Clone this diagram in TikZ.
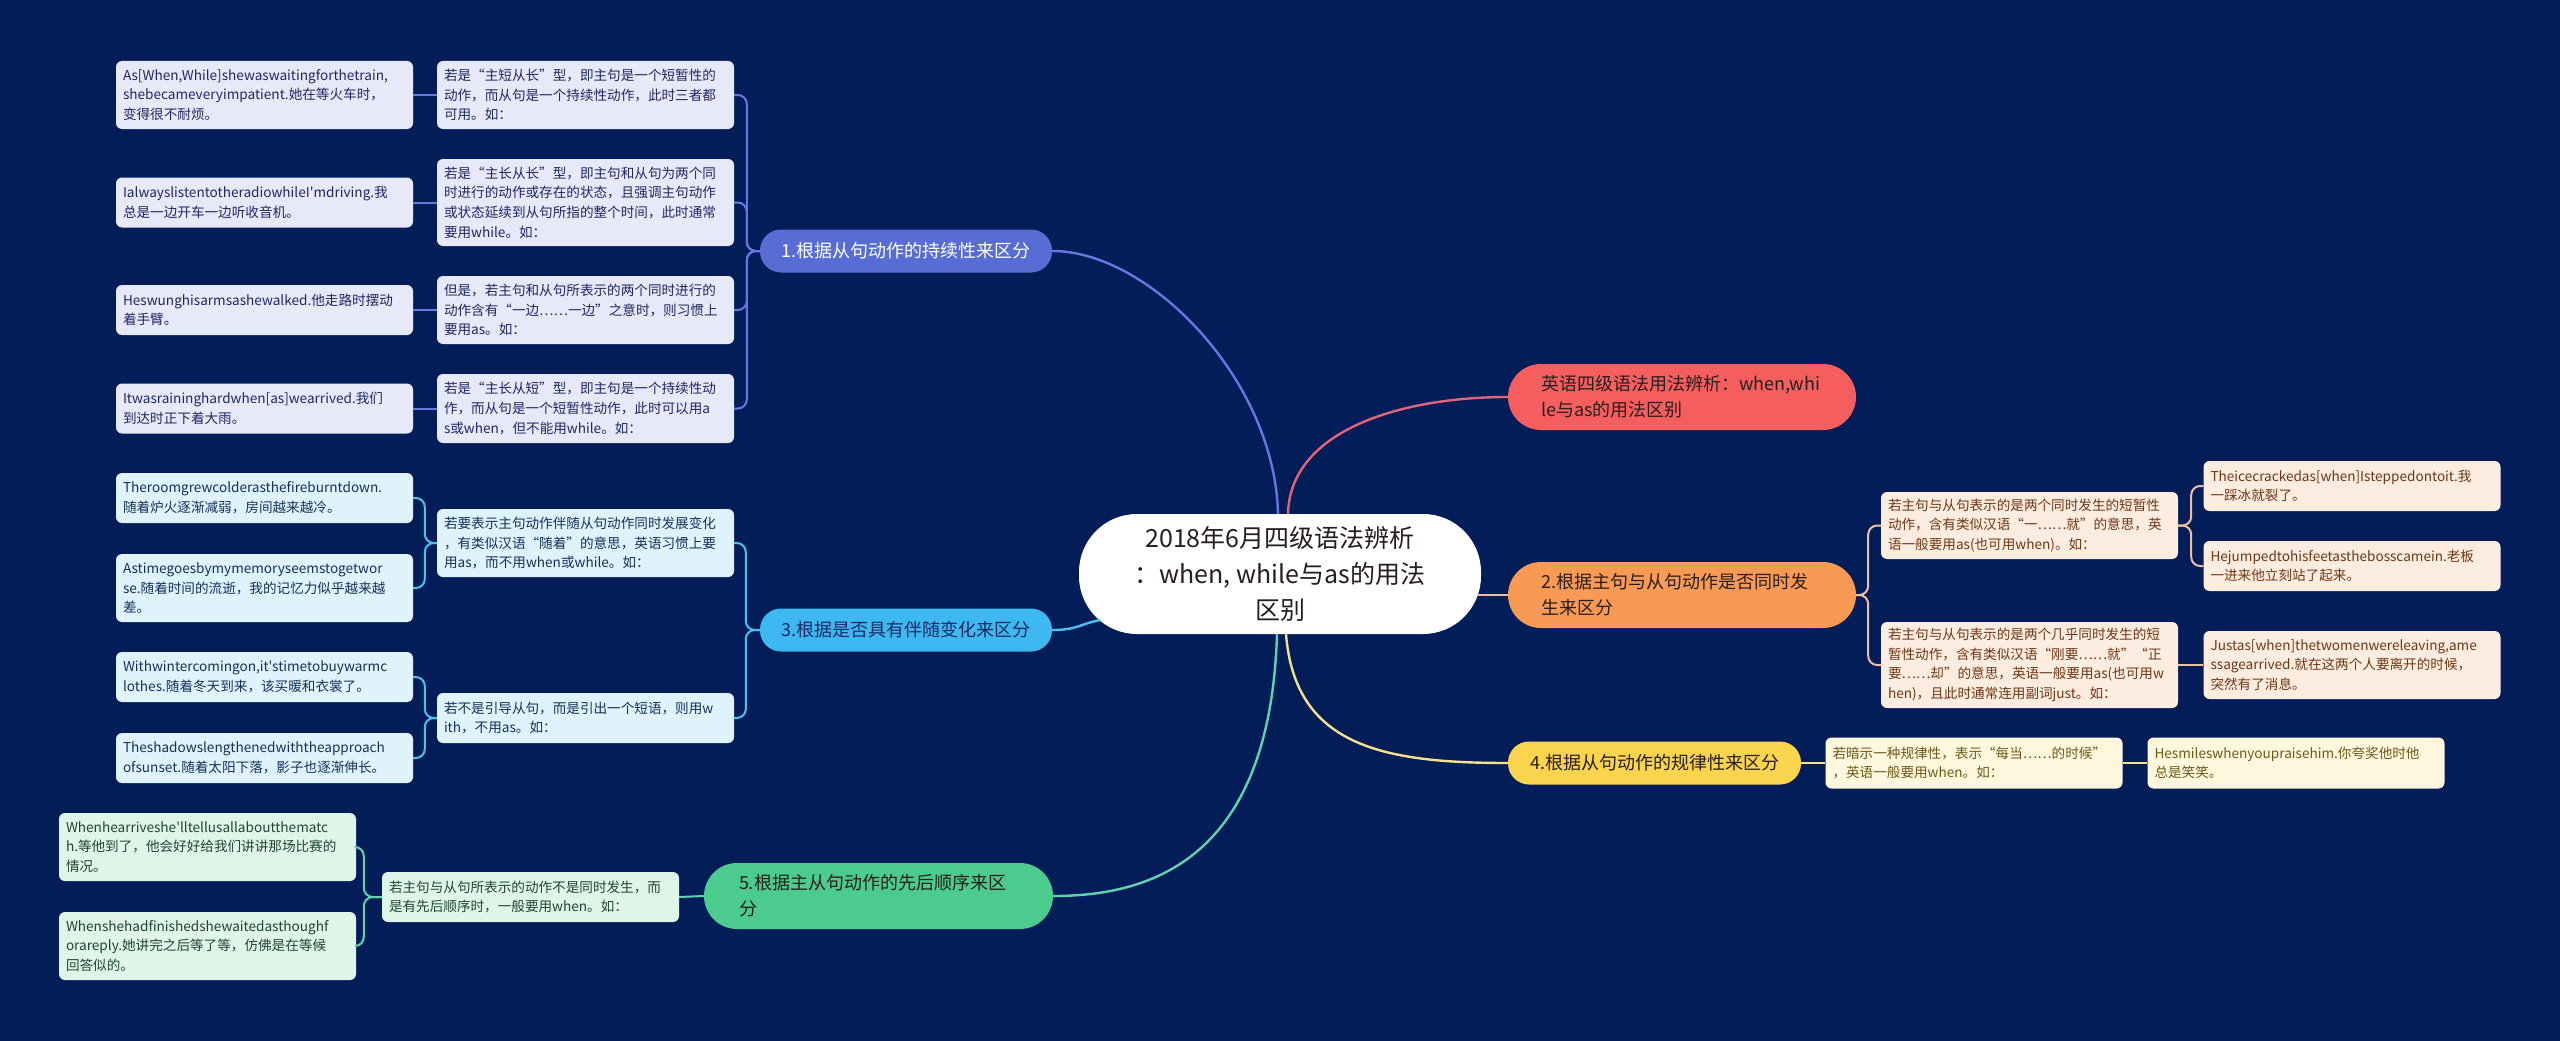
\documentclass[tikz,border=0pt]{standalone}
\usepackage{fontspec}
\setmainfont{Noto Sans CJK SC}[Ligatures=TeXOff]
\usetikzlibrary{calc}
\definecolor{bgnavy}{RGB}{3,29,88}
\definecolor{blueT}{RGB}{88,108,214}
\definecolor{blueL}{RGB}{100,120,228}
\definecolor{blueS}{RGB}{231,233,248}
\definecolor{blueX}{RGB}{30,40,100}
\definecolor{cyanT}{RGB}{62,184,240}
\definecolor{cyanL}{RGB}{80,190,240}
\definecolor{cyanS}{RGB}{222,243,252}
\definecolor{cyanX}{RGB}{20,50,90}
\definecolor{redT}{RGB}{245,94,94}
\definecolor{redL}{RGB}{225,100,120}
\definecolor{oraT}{RGB}{249,154,84}
\definecolor{oraL}{RGB}{240,190,160}
\definecolor{oraS}{RGB}{253,236,224}
\definecolor{oraX}{RGB}{110,55,20}
\definecolor{yelT}{RGB}{250,212,76}
\definecolor{yelL}{RGB}{246,226,140}
\definecolor{yelS}{RGB}{254,247,222}
\definecolor{yelX}{RGB}{110,90,20}
\definecolor{grnT}{RGB}{76,203,142}
\definecolor{grnL}{RGB}{95,210,175}
\definecolor{grnS}{RGB}{224,245,234}
\definecolor{grnX}{RGB}{30,70,50}
\definecolor{darkX}{RGB}{40,30,30}
\hyphenpenalty=10000
\exhyphenpenalty=10000
\begin{document}
\begin{tikzpicture}[x=1pt, y=-1pt,
  leaf/.style={rounded corners=6pt, align=left, text width=283pt, inner xsep=7pt, inner ysep=3pt,
    font=\fontsize{13.6}{19.6}\selectfont},
  topic/.style={font=\fontsize{18}{26}\selectfont, minimum height=43pt, rounded corners=21pt},
  wide/.style={topic, align=left, text width=282pt, inner xsep=33pt, minimum height=66pt, rounded corners=33pt},
  ln/.style={line width=2pt, rounded corners=9pt}]
  \useasboundingbox (0,0) rectangle (2560,1041);
  \fill[bgnavy] (0,0) rectangle (2560,1041);

  \node[fill=white, text=darkX, align=center, minimum width=402pt, minimum height=120pt, rounded corners=58pt,
    font=\fontsize{25}{36}\selectfont] (root) at (1280,574) {2018年6月四级语法辨析\\：when, while与as的用法\\区别};

  \node[wide, fill=redT, text=darkX] (b0) at (1682,397) {英语四级语法用法辨析：when,whi\\le与as的用法区别};
  \node[wide, fill=oraT, text=darkX] (b2) at (1682,595) {2.根据主句与从句动作是否同时发\\生来区分};
  \node[topic, fill=yelT, text=darkX, minimum width=293pt] (b4) at (1654.5,763) {4.根据从句动作的规律性来区分};
  \node[topic, fill=blueT, text=white, minimum width=292pt] (b1) at (906,251) {1.根据从句动作的持续性来区分};
  \node[topic, fill=cyanT, text=blueX, minimum width=292pt] (b3) at (906,630) {3.根据是否具有伴随变化来区分};
  \node[wide, fill=grnT, text=darkX, text width=279pt, inner xsep=35pt] (b5) at (878.5,896) {5.根据主从句动作的先后顺序来区\\分};

  \node[leaf, fill=blueS, text=blueX, minimum height=68pt] (s1a) at (585.5,95) {若是“主短从长”型，即主句是一个短暂性的\\动作，而从句是一个持续性动作，此时三者都\\可用。如：};
  \node[leaf, fill=blueS, text=blueX, minimum height=87pt] (s1b) at (585.5,202.5) {若是“主长从长”型，即主句和从句为两个同\\时进行的动作或存在的状态，且强调主句动作\\或状态延续到从句所指的整个时间，此时通常\\要用while。如：};
  \node[leaf, fill=blueS, text=blueX, minimum height=68pt] (s1c) at (585.5,310) {但是，若主句和从句所表示的两个同时进行的\\动作含有“一边……一边”之意时，则习惯上\\要用as。如：};
  \node[leaf, fill=blueS, text=blueX, minimum height=69pt] (s1d) at (585.5,408.5) {若是“主长从短”型，即主句是一个持续性动\\作，而从句是一个短暂性动作，此时可以用a\\s或when，但不能用while。如：};
  \node[leaf, fill=blueS, text=blueX, minimum height=68pt] (l1a) at (264.5,95) {As[When,While]shewaswaitingforthetrain,\\shebecameveryimpatient.她在等火车时，\\变得很不耐烦。};
  \node[leaf, fill=blueS, text=blueX, minimum height=50pt] (l1b) at (264.5,202.5) {IalwayslistentotheradiowhileI'mdriving.我\\总是一边开车一边听收音机。};
  \node[leaf, fill=blueS, text=blueX, minimum height=50pt] (l1c) at (264.5,310) {Heswunghisarmsashewalked.他走路时摆动\\着手臂。};
  \node[leaf, fill=blueS, text=blueX, minimum height=50pt] (l1d) at (264.5,408.5) {Itwasraininghardwhen[as]wearrived.我们\\到达时正下着大雨。};

  \node[leaf, fill=cyanS, text=cyanX, minimum height=68pt] (s3a) at (585.5,543) {若要表示主句动作伴随从句动作同时发展变化\\，有类似汉语“随着”的意思，英语习惯上要\\用as，而不用when或while。如：};
  \node[leaf, fill=cyanS, text=cyanX, minimum height=50pt] (s3b) at (585.5,718) {若不是引导从句，而是引出一个短语，则用w\\ith，不用as。如：};
  \node[leaf, fill=cyanS, text=cyanX, minimum height=50pt] (l3a) at (264.5,498) {Theroomgrewcolderasthefireburntdown.\\随着炉火逐渐减弱，房间越来越冷。};
  \node[leaf, fill=cyanS, text=cyanX, minimum height=68pt] (l3b) at (264.5,588) {Astimegoesbymymemoryseemstogetwor\\se.随着时间的流逝，我的记忆力似乎越来越\\差。};
  \node[leaf, fill=cyanS, text=cyanX, minimum height=50pt] (l3c) at (264.5,677) {Withwintercomingon,it'stimetobuywarmc\\lothes.随着冬天到来，该买暖和衣裳了。};
  \node[leaf, fill=cyanS, text=cyanX, minimum height=50pt] (l3d) at (264.5,758) {Theshadowslengthenedwiththeapproach\\ofsunset.随着太阳下落，影子也逐渐伸长。};

  \node[leaf, fill=grnS, text=grnX, minimum height=50pt] (s5) at (530.5,897) {若主句与从句所表示的动作不是同时发生，而\\是有先后顺序时，一般要用when。如：};
  \node[leaf, fill=grnS, text=grnX, minimum height=68pt] (l5a) at (207.5,847) {Whenhearriveshe'lltellusallaboutthematc\\h.等他到了，他会好好给我们讲讲那场比赛的\\情况。};
  \node[leaf, fill=grnS, text=grnX, minimum height=68pt] (l5b) at (207.5,946) {Whenshehadfinishedshewaitedasthoughf\\orareply.她讲完之后等了等，仿佛是在等候\\回答似的。};

  \node[leaf, fill=oraS, text=oraX, minimum height=67pt] (s2a) at (2029.5,525.5) {若主句与从句表示的是两个同时发生的短暂性\\动作，含有类似汉语“一……就”的意思，英\\语一般要用as(也可用when)。如：};
  \node[leaf, fill=oraS, text=oraX, minimum height=86pt] (s2b) at (2029.5,665) {若主句与从句表示的是两个几乎同时发生的短\\暂性动作，含有类似汉语“刚要……就”“正\\要……却”的意思，英语一般要用as(也可用w\\hen)，且此时通常连用副词just。如：};
  \node[leaf, fill=oraS, text=oraX, minimum height=50pt] (l2a) at (2352,486) {Theicecrackedas[when]Isteppedontoit.我\\一踩冰就裂了。};
  \node[leaf, fill=oraS, text=oraX, minimum height=50pt] (l2b) at (2352,566) {Hejumpedtohisfeetasthebosscamein.老板\\一进来他立刻站了起来。};
  \node[leaf, fill=oraS, text=oraX, minimum height=68pt] (l2c) at (2352,665) {Justas[when]thetwomenwereleaving,ame\\ssagearrived.就在这两个人要离开的时候，\\突然有了消息。};

  \node[leaf, fill=yelS, text=yelX, minimum height=51pt] (s4) at (1974,763) {若暗示一种规律性，表示“每当……的时候”\\，英语一般要用when。如：};
  \node[leaf, fill=yelS, text=yelX, minimum height=51pt] (l4) at (2296,763) {Hesmileswhenyoupraisehim.你夸奖他时他\\总是笑笑。};

  \coordinate (r1) at ($(root.north)+(-2,0)$);
  \coordinate (r0) at ($(root.north)+(8,0)$);
  \coordinate (r2) at ($(root.center)+(197,21)$);
  \coordinate (r3) at ($(root.center)+(-180,46)$);
  \coordinate (r4) at ($(root.south)+(6,0)$);
  \coordinate (r5) at ($(root.south)+(-3,0)$);

  \draw[line width=2.4pt, blueL] (r1) .. controls +(-3,-133) and +(98,0) .. (b1.east);
  \draw[line width=2.4pt, redL] (r0) .. controls +(2,-83) and +(-108,0) .. (b0.west);
  \draw[line width=2.4pt, oraL] (r2) -- (b2.west);
  \draw[line width=2.4pt, cyanL] (b3.east) .. controls +(25,0) and +(-20,4) .. (r3);
  \draw[line width=2.4pt, yelL] (r4) .. controls +(9,111) and +(-127,0) .. (b4.west);
  \draw[line width=2.4pt, grnL] (r5) .. controls +(-7,226) and +(97,0) .. (b5.east);

  \draw[ln, blueL] (b1.west) -- ++(-13,0) |- (s1a.east); \draw[ln, blueL] (b1.west) -- ++(-13,0) |- (s1b.east);
  \draw[ln, blueL] (b1.west) -- ++(-13,0) |- (s1c.east); \draw[ln, blueL] (b1.west) -- ++(-13,0) |- (s1d.east);
  \draw[ln, blueL] (l1a) -- (s1a); \draw[ln, blueL] (l1b) -- (s1b);
  \draw[ln, blueL] (l1c) -- (s1c); \draw[ln, blueL] (l1d) -- (s1d);

  \draw[ln, cyanL] (b3.west) -- ++(-14,0) |- (s3a.east); \draw[ln, cyanL] (b3.west) -- ++(-14,0) |- (s3b.east);
  \draw[ln, cyanL] (s3a.west) -- ++(-12,0) |- (l3a.east); \draw[ln, cyanL] (s3a.west) -- ++(-12,0) |- (l3b.east);
  \draw[ln, cyanL] (s3b.west) -- ++(-12,0) |- (l3c.east); \draw[ln, cyanL] (s3b.west) -- ++(-12,0) |- (l3d.east);

  \draw[ln, grnL] (b5.west) -- (s5.east);
  \draw[ln, grnL] (s5.west) -- ++(-18,0) |- (l5a.east); \draw[ln, grnL] (s5.west) -- ++(-18,0) |- (l5b.east);

  \draw[ln, oraL] (b2.east) -- ++(12,0) |- (s2a.west); \draw[ln, oraL] (b2.east) -- ++(12,0) |- (s2b.west);
  \draw[ln, oraL] (s2a.east) -- ++(13,0) |- (l2a.west); \draw[ln, oraL] (s2a.east) -- ++(13,0) |- (l2b.west);
  \draw[ln, oraL] (s2b) -- (l2c);

  \draw[ln, yelL] (b4) -- (s4); \draw[ln, yelL] (s4) -- (l4);
\end{tikzpicture}
\end{document}
